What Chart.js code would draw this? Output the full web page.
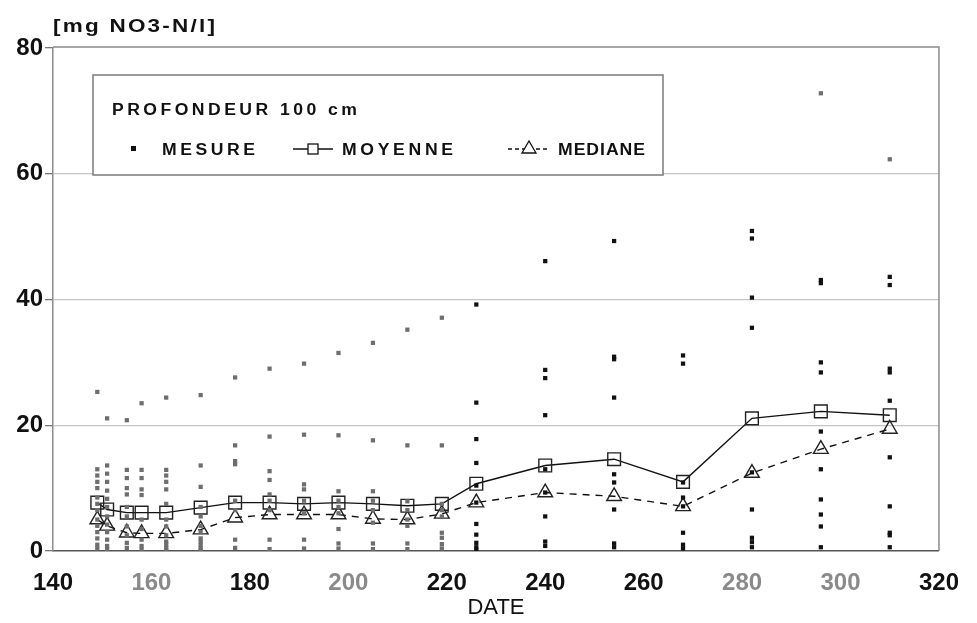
<!DOCTYPE html>
<html>
<head>
<meta charset="utf-8">
<script src="https://cdn.jsdelivr.net/npm/chart.js@4.4.1/dist/chart.umd.min.js"></script>
<style>
  html, body { margin: 0; padding: 0; background: #fff; }
  canvas { display: block; }
</style>
</head>
<body>
<canvas id="c" width="977" height="623"></canvas>
<script>
// ---------- DATA ----------
const dates = [149, 151, 155, 158, 163, 170, 177, 184, 191, 198, 205, 212, 219, 226, 240, 254, 268, 282, 296, 310];

const measures = [
  [25.3, 13.0, 12.0, 11.0, 10.0, 8.5, 7.5, 6.5, 5.0, 4.0, 3.0, 2.0, 1.0, 0.4],
  [21.1, 13.6, 12.3, 11.0, 9.6, 8.3, 7.0, 5.5, 4.2, 3.0, 1.8, 0.8, 0.3],
  [20.8, 12.9, 11.6, 10.0, 9.0, 7.0, 5.5, 3.9, 2.5, 1.3, 0.5],
  [23.5, 12.9, 11.6, 9.8, 8.9, 5.0, 3.5, 1.8, 0.8, 0.2],
  [24.4, 12.9, 12.0, 11.0, 9.8, 7.5, 5.0, 3.9, 2.5, 1.5, 1.0, 0.5, 0.1],
  [24.8, 13.6, 10.2, 7.0, 5.5, 4.0, 3.0, 2.0, 1.5, 1.0, 0.5, 0.1],
  [27.6, 16.8, 14.3, 13.8, 8.0, 6.5, 1.8, 0.5],
  [29.0, 18.2, 12.7, 11.3, 9.0, 8.0, 6.5, 1.8, 0.3],
  [29.8, 18.5, 10.6, 9.8, 8.0, 6.0, 1.8, 0.4],
  [31.5, 18.4, 9.5, 8.0, 7.0, 6.0, 3.5, 1.2, 0.4],
  [33.1, 17.6, 9.5, 8.0, 6.5, 4.5, 1.2, 0.3],
  [35.2, 16.8, 7.9, 6.5, 5.0, 4.0, 1.2, 0.3],
  [37.1, 16.8, 7.5, 6.5, 5.5, 2.9, 2.1, 1.1, 0.4],
  [39.2, 23.6, 17.8, 14.0, 10.4, 7.7, 4.3, 2.6, 1.3, 0.6, 0.2],
  [46.1, 28.8, 27.5, 21.6, 13.0, 9.3, 5.5, 1.5, 0.8],
  [49.3, 30.9, 30.5, 24.4, 12.2, 10.9, 6.6, 1.2, 0.6],
  [31.1, 29.8, 10.9, 8.5, 7.1, 2.9, 1.0, 0.4],
  [50.9, 49.7, 40.3, 35.5, 12.5, 6.6, 2.1, 1.4, 0.6],
  [72.8, 43.1, 42.6, 30.0, 28.4, 19.0, 13.0, 8.2, 5.8, 3.9, 0.6],
  [62.3, 43.6, 42.3, 29.0, 28.4, 23.9, 14.9, 7.1, 2.9, 2.5, 0.6]
];

const moyenne = [7.7, 6.6, 6.1, 6.1, 6.1, 6.9, 7.7, 7.7, 7.5, 7.7, 7.5, 7.2, 7.5, 10.7, 13.6, 14.6, 11.0, 21.1, 22.2, 21.6];
const mediane = [5.0, 4.0, 2.9, 2.8, 2.8, 3.4, 5.3, 5.8, 5.8, 5.8, 5.1, 5.0, 5.9, 7.7, 9.3, 8.7, 7.1, 12.4, 16.2, 19.4];

const xTicks = [140, 160, 180, 200, 220, 240, 260, 280, 300, 320];
const yTicks = [0, 20, 40, 60, 80];

const legendTitle = 'PROFONDEUR 100 cm';
const seriesNames = ['MESURE', 'MOYENNE', 'MEDIANE'];
const yUnit = '[mg NO3-N/l]';
const xTitle = 'DATE';

// ---------- build datasets ----------
const measurePoints = [];
dates.forEach((d, i) => measures[i].forEach(v => measurePoints.push({ x: d, y: v })));
const meanPoints = dates.map((d, i) => ({ x: d, y: moyenne[i] }));
const medPoints = dates.map((d, i) => ({ x: d, y: mediane[i] }));

const FONT = '"Liberation Sans", Arial, Helvetica, sans-serif';
const greyTicks = [160, 200, 280, 300];

// draw text left-aligned at x, stretched horizontally by sx and tracked to span width w
function fitText(ctx, text, x, y, w, sx) {
  sx = sx || 1;
  ctx.save();
  ctx.letterSpacing = '0px';
  const m = ctx.measureText(text).width;
  const n = text.length;
  ctx.translate(x, y);
  ctx.scale(sx, 1);
  if (n > 1) ctx.letterSpacing = ((w / sx - m) / (n - 1)) + 'px';
  ctx.fillText(text, 0, 0);
  ctx.restore();
}

const decor = {
  id: 'decor',
  beforeDatasetsDraw(chart) {
    const { ctx, chartArea: a } = chart;
    ctx.save();
    ctx.strokeStyle = '#8c8c8c';
    ctx.lineWidth = 1.5;
    ctx.beginPath();
    ctx.moveTo(a.left, a.top - 1);
    ctx.lineTo(a.right, a.top - 1);
    ctx.lineTo(a.right, a.bottom);
    ctx.stroke();
    ctx.restore();
  },
  afterDraw(chart) {
    const { ctx } = chart;
    ctx.save();
    // y unit label
    ctx.fillStyle = '#111';
    ctx.textAlign = 'left';
    ctx.textBaseline = 'alphabetic';
    ctx.font = 'bold 18px ' + FONT;
    fitText(ctx, yUnit, 53, 32, 162, 1.25);

    // legend box
    const bx = 93, by = 75, bw = 570, bh = 100;
    ctx.fillStyle = '#fff';
    ctx.fillRect(bx, by, bw, bh);
    ctx.strokeStyle = '#7a7a7a';
    ctx.lineWidth = 1.5;
    ctx.strokeRect(bx, by, bw, bh);

    ctx.fillStyle = '#111';
    ctx.font = 'bold 16px ' + FONT;
    fitText(ctx, legendTitle, 112, 115, 245, 1.1);

    const rowY = 149;
    // MESURE marker
    ctx.fillRect(131, rowY - 3, 5, 5);
    fitText(ctx, seriesNames[0], 162, rowY + 6, 93, 1.1);

    // MOYENNE: line + square
    ctx.strokeStyle = '#111';
    ctx.lineWidth = 1.3;
    ctx.beginPath();
    ctx.moveTo(293, rowY); ctx.lineTo(333, rowY);
    ctx.stroke();
    ctx.fillStyle = '#fff';
    ctx.fillRect(308, rowY - 5, 10, 10);
    ctx.strokeRect(308, rowY - 5, 10, 10);
    ctx.fillStyle = '#111';
    fitText(ctx, seriesNames[1], 342, rowY + 6, 111, 1.1);

    // MEDIANE: dashed line + triangle
    ctx.setLineDash([4, 3]);
    ctx.beginPath();
    ctx.moveTo(508, rowY); ctx.lineTo(550, rowY);
    ctx.stroke();
    ctx.setLineDash([]);
    ctx.fillStyle = '#fff';
    ctx.beginPath();
    ctx.moveTo(529, rowY - 8); ctx.lineTo(536, rowY + 4); ctx.lineTo(522, rowY + 4); ctx.closePath();
    ctx.fill(); ctx.stroke();
    ctx.fillStyle = '#111';
    fitText(ctx, seriesNames[2], 558, rowY + 6, 87, 1.1);
    ctx.restore();
  }
};

new Chart(document.getElementById('c'), {
  type: 'scatter',
  data: {
    datasets: [
      {
        label: seriesNames[0],
        data: measurePoints,
        pointStyle: 'rect',
        pointRadius: 3,
        pointBorderWidth: 0,
        pointBackgroundColor: (c) => {
          const r = c.raw;
          if (!r) return '#111';
          return (r.x < 224 || r.y > 55) ? '#6e6e6e' : '#111';
        },
        showLine: false,
        order: 0
      },
      {
        label: seriesNames[1],
        type: 'line',
        data: meanPoints,
        borderColor: '#111',
        borderWidth: 1.4,
        pointStyle: 'rect',
        pointRadius: 9,
        pointBorderWidth: 1.4,
        pointBorderColor: '#222',
        pointBackgroundColor: 'rgba(255,255,255,0)',
        tension: 0,
        order: 2
      },
      {
        label: seriesNames[2],
        type: 'line',
        data: medPoints,
        borderColor: '#111',
        borderWidth: 1.4,
        borderDash: [7, 6],
        pointStyle: 'triangle',
        pointRadius: 8.5,
        pointBorderWidth: 1.4,
        pointBorderColor: '#222',
        pointBackgroundColor: 'rgba(255,255,255,0)',
        tension: 0,
        order: 1
      }
    ]
  },
  options: {
    responsive: false,
    animation: false,
    devicePixelRatio: 1,
    layout: { padding: { left: 0, right: 31, top: 48, bottom: 0 } },
    plugins: { legend: { display: false }, tooltip: { enabled: false } },
    scales: {
      x: {
        type: 'linear',
        min: xTicks[0],
        max: xTicks[xTicks.length - 1],
        afterBuildTicks: (s) => { s.ticks = xTicks.map(v => ({ value: v })); },
        afterFit: (s) => { s.height = 72; },
        grid: { drawOnChartArea: false, drawTicks: false },
        border: { display: true, color: '#555', width: 1.6 },
        ticks: {
          padding: 18,
          autoSkip: false,
          maxRotation: 0,
          font: { family: FONT, size: 24, weight: 'bold' },
          color: (c) => greyTicks.includes(c.tick && c.tick.value) ? '#8a8a8a' : '#111'
        },
        title: {
          display: true,
          text: xTitle,
          font: { family: FONT, size: 22 },
          color: '#111',
          padding: { top: 0, bottom: 2 }
        }
      },
      y: {
        min: yTicks[0],
        max: yTicks[yTicks.length - 1],
        afterBuildTicks: (s) => { s.ticks = yTicks.map(v => ({ value: v })); },
        afterFit: (s) => { s.width = 53; },
        grid: {
          color: (c) => (c.tick && (c.tick.value === 0 || c.tick.value === 80)) ? 'rgba(0,0,0,0)' : '#c4c4c4',
          lineWidth: 1.3,
          tickLength: 8,
          tickColor: '#777'
        },
        border: { display: true, color: '#8a8a8a', width: 1.5 },
        ticks: {
          padding: 2,
          font: { family: FONT, size: 24, weight: 'bold' },
          color: '#111'
        }
      }
    }
  },
  plugins: [decor]
});
</script>
</body>
</html>
